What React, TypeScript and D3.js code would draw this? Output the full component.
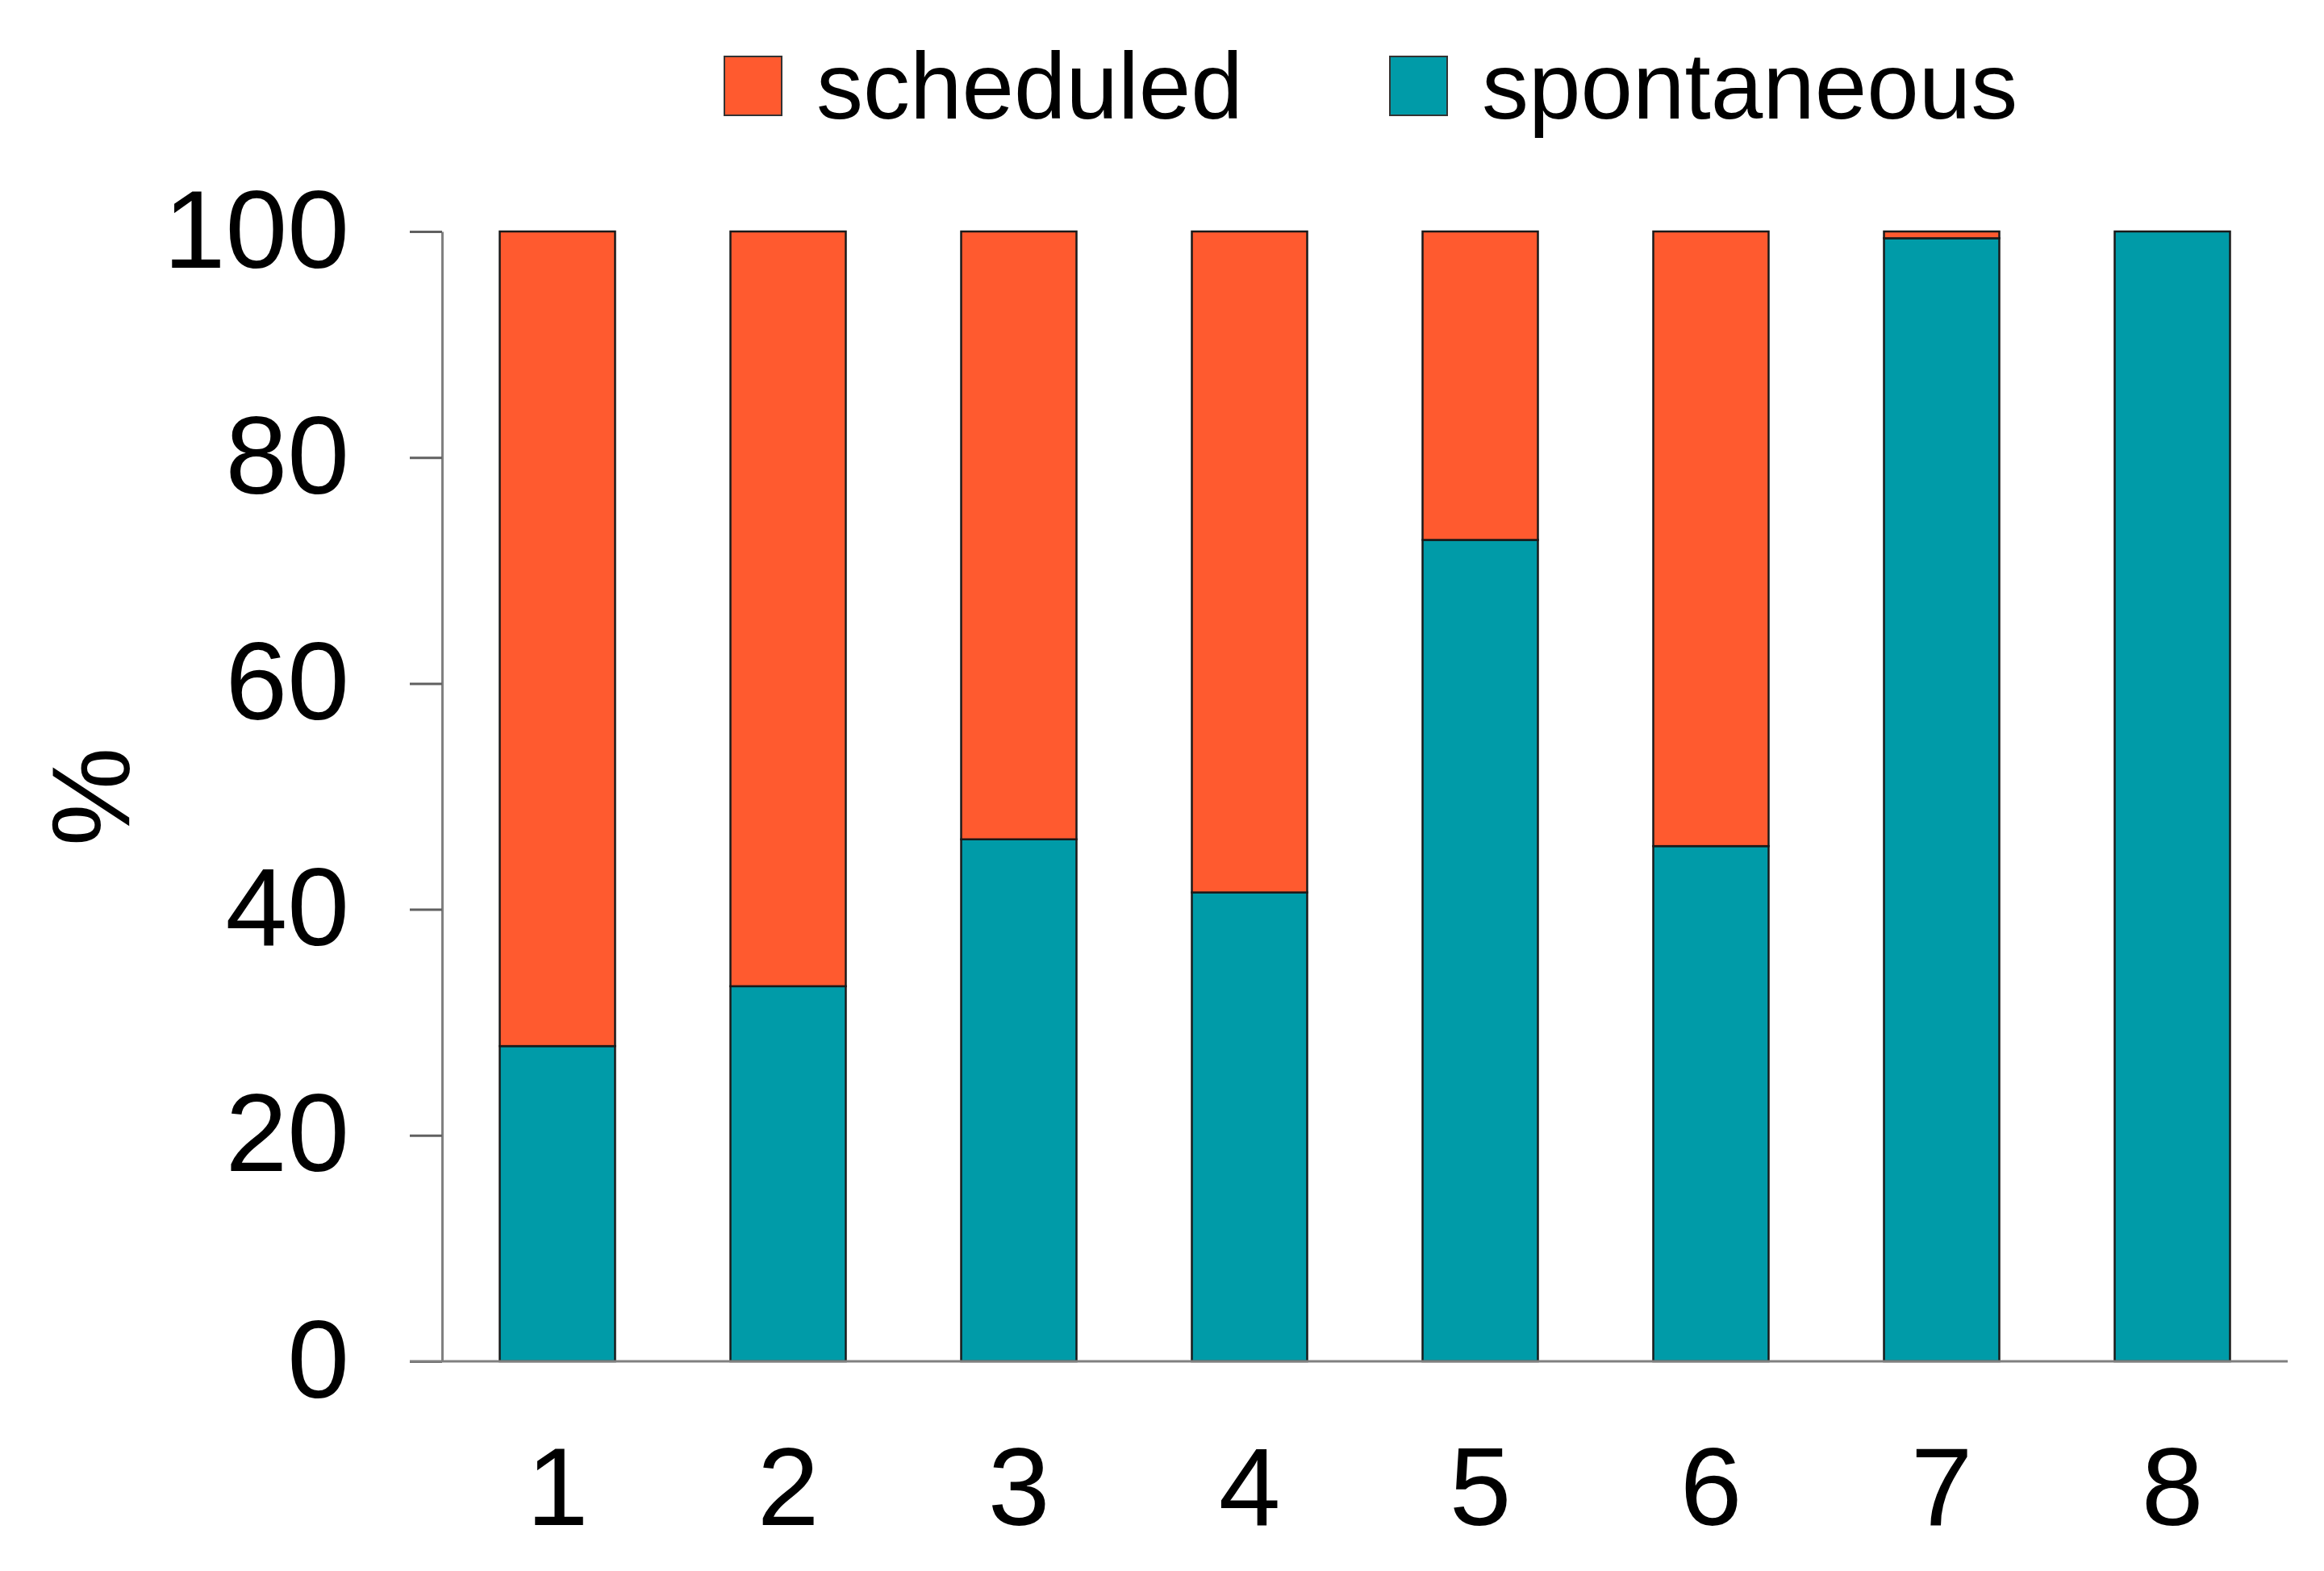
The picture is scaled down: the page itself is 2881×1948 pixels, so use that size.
import { useEffect, useRef } from "react";
import * as d3 from "d3";

// share of each group, in percent
const groups = ["1", "2", "3", "4", "5", "6", "7", "8"];
const spontaneous = [27.9, 33.2, 46.2, 41.5, 72.7, 45.6, 99.4, 100];
const scheduled = spontaneous.map((v) => 100 - v);
const yTicks = [0, 20, 40, 60, 80, 100];
const seriesNames = ["scheduled", "spontaneous"];

const ORANGE = "#FF5A2F";
const TEAL = "#009BA8";

export default function App() {
  const svgRef = useRef(null);

  useEffect(() => {
    document.body.style.margin = "0";
    const svg = d3.select(svgRef.current);
    svg.selectAll("*").remove();

    const W = 2881;
    const H = 1948;
    const left = 548;
    const right = 2836;
    const top = 287;
    const bottom = 1688;
    const font = "Liberation Sans, Arial, sans-serif";

    const x = d3
      .scaleBand()
      .domain(groups)
      .range([left, right])
      .paddingInner(0.5)
      .paddingOuter(0.25);
    const y = d3.scaleLinear().domain([0, 100]).range([bottom, top]);

    svg.attr("width", W).attr("height", H);
    svg.append("rect").attr("width", W).attr("height", H).attr("fill", "#fff");

    const rows = groups.map((g, i) => ({ g, spont: spontaneous[i], sched: scheduled[i] }));

    // spontaneous (bottom)
    svg
      .append("g")
      .selectAll("rect")
      .data(rows)
      .join("rect")
      .attr("x", (d) => x(d.g)!)
      .attr("width", x.bandwidth())
      .attr("y", (d) => y(d.spont))
      .attr("height", (d) => y(0) - y(d.spont))
      .attr("fill", TEAL)
      .attr("stroke", "#1a1a1a")
      .attr("stroke-width", 2.5);

    // scheduled (top)
    svg
      .append("g")
      .selectAll("rect")
      .data(rows.filter((d) => d.sched > 0))
      .join("rect")
      .attr("x", (d) => x(d.g)!)
      .attr("width", x.bandwidth())
      .attr("y", y(100))
      .attr("height", (d) => y(d.spont) - y(100))
      .attr("fill", ORANGE)
      .attr("stroke", "#1a1a1a")
      .attr("stroke-width", 2.5);

    // y axis
    const yAxis = svg
      .append("g")
      .attr("transform", `translate(${left},0)`)
      .call(d3.axisLeft(y).tickValues(yTicks).tickSize(40).tickPadding(75).tickSizeOuter(0));
    yAxis.select(".domain").attr("stroke", "#808080").attr("stroke-width", 3);
    yAxis.selectAll(".tick line").attr("stroke", "#606060").attr("stroke-width", 3);
    yAxis
      .selectAll(".tick text")
      .attr("font-family", font)
      .attr("font-size", 138)
      .attr("fill", "#000");

    // x baseline
    svg
      .append("line")
      .attr("x1", left - 40)
      .attr("x2", right)
      .attr("y1", y(0))
      .attr("y2", y(0))
      .attr("stroke", "#808080")
      .attr("stroke-width", 3);

    // x labels
    svg
      .append("g")
      .selectAll("text")
      .data(groups)
      .join("text")
      .attr("x", (d) => x(d)! + x.bandwidth() / 2)
      .attr("y", 1891)
      .attr("text-anchor", "middle")
      .attr("font-family", font)
      .attr("font-size", 138)
      .attr("fill", "#000")
      .text((d) => d);

    // y title
    svg
      .append("text")
      .attr("transform", "translate(160,988) rotate(-90)")
      .attr("text-anchor", "middle")
      .attr("font-family", font)
      .attr("font-size", 138)
      .attr("fill", "#000")
      .text("%");

    // legend
    const legendX = [898, 1723];
    const colors = [ORANGE, TEAL];
    const leg = svg
      .append("g")
      .selectAll("g")
      .data(seriesNames)
      .join("g")
      .attr("transform", (_, i) => `translate(${legendX[i]},0)`);
    leg
      .append("rect")
      .attr("x", 0)
      .attr("y", 70)
      .attr("width", 71)
      .attr("height", 73)
      .attr("fill", (_, i) => colors[i])
      .attr("stroke", "#333")
      .attr("stroke-width", 2);
    leg
      .append("text")
      .attr("x", 114)
      .attr("y", 147)
      .attr("font-family", font)
      .attr("font-size", 116)
      .attr("fill", "#000")
      .text((d) => d);
  }, []);

  return <svg ref={svgRef} style={{ display: "block" }}></svg>;
}
